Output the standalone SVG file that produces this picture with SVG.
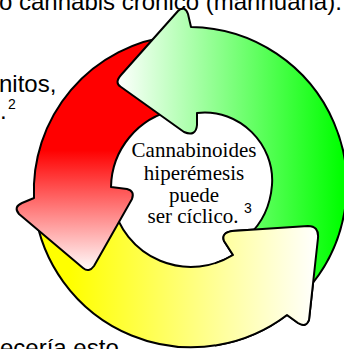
<svg xmlns="http://www.w3.org/2000/svg" xmlns:xlink="http://www.w3.org/1999/xlink" width="344" height="349" viewBox="0 0 344 349">
  <style>
    .arrow { stroke: #000; stroke-width: 2; stroke-linejoin: round; }
    .outer { font-family: "Liberation Sans", Arial, sans-serif; font-size: 24px; fill: #000; }
    .sup { font-family: "Liberation Sans", Arial, sans-serif; font-size: 14px; fill: #000; }
    .center { font-family: "Liberation Serif", "Times New Roman", serif; font-size: 21px; fill: #000; text-anchor: middle; }
  </style>
  <defs>
    <linearGradient id="gRed" gradientUnits="userSpaceOnUse" x1="0" y1="150" x2="0" y2="272">
      <stop offset="0" stop-color="#ff0000"/>
      <stop offset="1" stop-color="#ffffff"/>
    </linearGradient>
    <linearGradient id="gGreen" gradientUnits="userSpaceOnUse" x1="117" y1="0" x2="342" y2="0">
      <stop offset="0" stop-color="#ffffff"/>
      <stop offset="1" stop-color="#00ff00"/>
    </linearGradient>
    <linearGradient id="gYellow" gradientUnits="userSpaceOnUse" x1="70" y1="0" x2="318" y2="0">
      <stop offset="0" stop-color="#ffff00"/>
      <stop offset="1" stop-color="#ffffff"/>
    </linearGradient>
    <clipPath id="yellowHeadClip">
      <rect x="215" y="218" width="129" height="131"/>
    </clipPath>
    <path id="yellowShape" class="arrow" fill="url(#gYellow)" d="M35,212 A158,158 0 0 0 287,315 L298,323 Q306,328 309,320 L318,238 Q319,226 308,226 L232,231 Q221,233 224,241 L233,255 A80,80 0 0 1 113,205 Z"/>
  </defs>

  <g id="connectors">
    <g id="arrow-yellow">
      <use xlink:href="#yellowShape" href="#yellowShape"/>
    </g>
    <g id="arrow-red">
      <path class="arrow" fill="url(#gRed)" d="M172,36 A156,156 0 0 0 34,198 L22,203 Q13,207 19,214 L83,268 Q89,273 94,266 L132,199 Q135,191 127,189 L111,187 A80,80 0 0 1 175,110 Z"/>
    </g>
    <g id="arrow-green">
      <path class="arrow" fill="url(#gGreen)" d="M305,292 A158,158 0 0 0 191,27 L188,14 Q185,5 178,11 L121,75 Q114,83 121,87 L184,132 Q196,137 197,125 L197,113 C240,108 275,145 272,185 C270,210 260,225 248,236 Z"/>
    </g>
    <g id="arrow-yellow-head">
      <use xlink:href="#yellowShape" href="#yellowShape" clip-path="url(#yellowHeadClip)"/>
    </g>
  </g>

  <g id="center-label">
    <text class="center" x="194" y="157">Cannabinoides</text>
    <text class="center" x="194" y="180">hiperémesis</text>
    <text class="center" x="194" y="202">puede</text>
    <text class="center" x="193" y="223">ser cíclico.</text>
    <text class="sup" x="244" y="213">3</text>
  </g>

  <g id="text-top">
    <text class="outer" x="-1" y="9.5">o cannabis crónico (marihuana).</text>
  </g>
  <g id="text-left">
    <text class="outer" x="-1" y="92">nitos,</text>
    <text class="outer" x="0" y="119">.</text>
    <text class="sup" x="8" y="109">2</text>
  </g>
  <g id="text-bottom">
    <text class="outer" x="0" y="356">ecería esto</text>
  </g>
</svg>
